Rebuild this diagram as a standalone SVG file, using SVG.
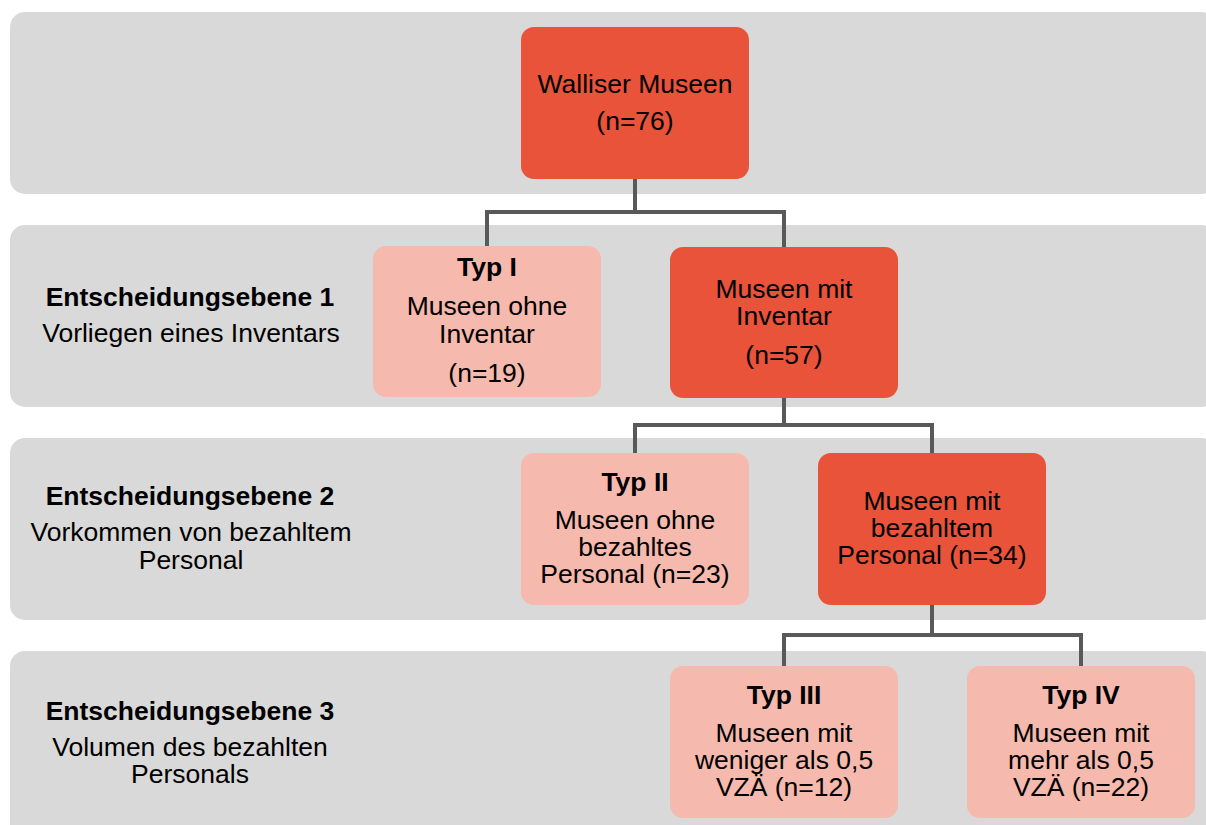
<svg xmlns="http://www.w3.org/2000/svg" width="1206" height="825" viewBox="0 0 1206 825">
<style>
.band{fill:#D9D9D9}
.dark{fill:#E8533A}
.light{fill:#F6B9AE}
text{font-family:"Liberation Sans",Arial,sans-serif;font-size:26.5px;fill:#000;text-anchor:middle}
.b{font-weight:bold}
.conn{fill:none;stroke:#595959;stroke-width:4;stroke-linejoin:miter}
</style>
<rect width="1206" height="825" fill="#FFFFFF"/>
<g id="bands">
<rect class="band" x="10" y="12" width="1206" height="182" rx="15"/>
<rect class="band" x="10" y="225" width="1206" height="182" rx="15"/>
<rect class="band" x="10" y="438" width="1206" height="182" rx="15"/>
<rect class="band" x="10" y="651" width="1206" height="200" rx="15"/>
</g>
<g id="connectors">
<path class="conn" d="M635 179 V212 M487 246 V212 H784 V247"/>
<path class="conn" d="M784 398 V425 M635 453 V425 H932 V453"/>
<path class="conn" d="M932 605 V635 M784 666 V635 H1081 V666"/>
</g>
<g id="level1-label">
<text x="190" y="306" class="b">Entscheidungsebene 1</text>
<text x="191" y="342">Vorliegen eines Inventars</text>
</g>
<g id="level2-label">
<text x="190" y="505" class="b">Entscheidungsebene 2</text>
<text x="191" y="541">Vorkommen von bezahltem</text>
<text x="191" y="569">Personal</text>
</g>
<g id="level3-label">
<text x="190" y="720" class="b">Entscheidungsebene 3</text>
<text x="190" y="756">Volumen des bezahlten</text>
<text x="190" y="783">Personals</text>
</g>
<g id="root">
<rect class="dark" x="521" y="27" width="228" height="152" rx="13"/>
<text x="635" y="93">Walliser Museen</text>
<text x="635" y="130">(n=76)</text>
</g>
<g id="typ1">
<rect class="light" x="373" y="246" width="228" height="151" rx="13"/>
<text x="487" y="276" class="b">Typ I</text>
<text x="487" y="315">Museen ohne</text>
<text x="487" y="343">Inventar</text>
<text x="487" y="382">(n=19)</text>
</g>
<g id="mit-inventar">
<rect class="dark" x="670" y="247" width="228" height="151" rx="13"/>
<text x="784" y="298">Museen mit</text>
<text x="784" y="325">Inventar</text>
<text x="784" y="364">(n=57)</text>
</g>
<g id="typ2">
<rect class="light" x="521" y="453" width="228" height="152" rx="13"/>
<text x="635" y="491" class="b">Typ II</text>
<text x="635" y="529">Museen ohne</text>
<text x="635" y="556">bezahltes</text>
<text x="635" y="583">Personal (n=23)</text>
</g>
<g id="mit-personal">
<rect class="dark" x="818" y="453" width="228" height="152" rx="13"/>
<text x="932" y="510">Museen mit</text>
<text x="932" y="537">bezahltem</text>
<text x="932" y="564">Personal (n=34)</text>
</g>
<g id="typ3">
<rect class="light" x="670" y="666" width="228" height="152" rx="13"/>
<text x="784" y="704" class="b">Typ III</text>
<text x="784" y="742">Museen mit</text>
<text x="784" y="769">weniger als 0,5</text>
<text x="784" y="796">VZÄ (n=12)</text>
</g>
<g id="typ4">
<rect class="light" x="967" y="666" width="228" height="152" rx="13"/>
<text x="1081" y="704" class="b">Typ IV</text>
<text x="1081" y="742">Museen mit</text>
<text x="1081" y="769">mehr als 0,5</text>
<text x="1081" y="796">VZÄ (n=22)</text>
</g>
</svg>
